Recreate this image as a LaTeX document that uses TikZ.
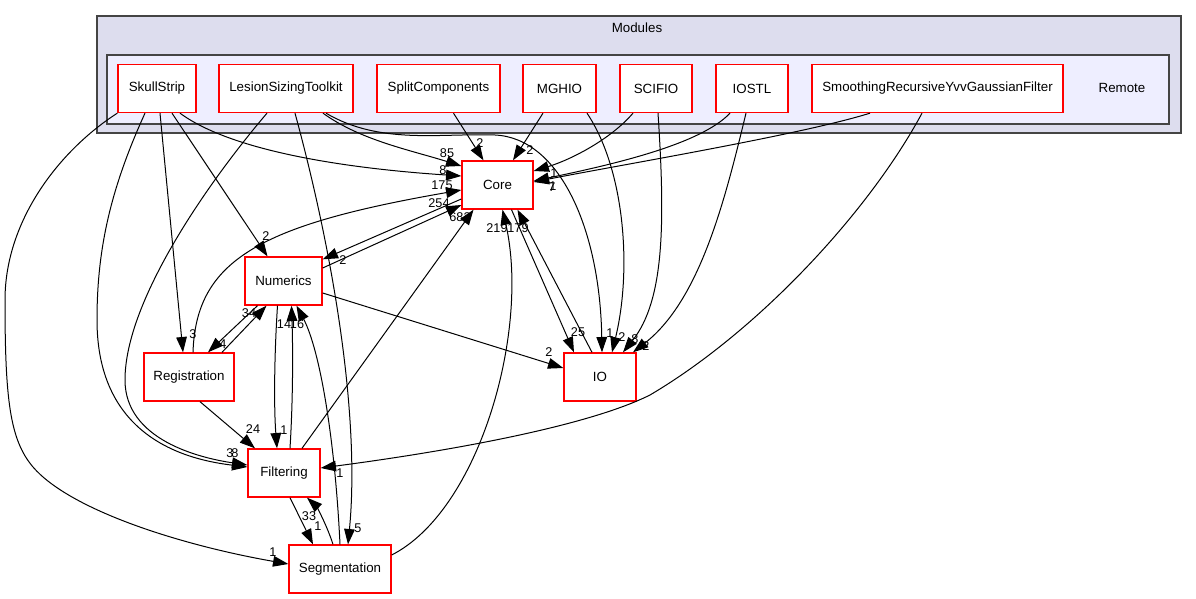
\documentclass[tikz,border=0pt]{standalone}
\usepackage{fontspec}
\setmainfont{Liberation Sans}
\usetikzlibrary{arrows.meta, calc}

\definecolor{modfill}{HTML}{DDDDEE}
\definecolor{remfill}{HTML}{EEEEFF}
\definecolor{clusterline}{HTML}{444444}

\tikzset{
  dirbox/.style={draw=red, line width=1pt, fill=white, minimum height=36pt, inner sep=0pt},
  dep/.style={-{Triangle[length=11.5pt, width=8pt]}, line width=0.75pt},
  lbl/.style={inner sep=0pt, font=\fontsize{9.5}{11}\selectfont},
}

\begin{document}
\begin{tikzpicture}[x=0.75pt, y=-0.75pt]
  \useasboundingbox (0,0) rectangle (1196,599);
  % --- Clusters ---
  \draw[clusterline, fill=modfill, line width=1.5pt] (97,16) rectangle (1181,133);
  \node (modules) at (637,28) {Modules};
  \draw[clusterline, fill=remfill, line width=1.5pt] (107,55) rectangle (1169,124);
  \node (remote) at (1122,88) {Remote};
  % --- Remote modules ---
  \node[dirbox, minimum width=58.5pt]  (skull)  at (157,88.5)   {SkullStrip};
  \node[dirbox, minimum width=100.5pt] (lesion) at (286,88.5)   {LesionSizingToolkit};
  \node[dirbox, minimum width=92.25pt] (split)  at (438.5,88.5) {SplitComponents};
  \node[dirbox, minimum width=54.75pt] (mghio)  at (559.5,88.5) {MGHIO};
  \node[dirbox, minimum width=54pt]    (scifio) at (656,88.5)   {SCIFIO};
  \node[dirbox, minimum width=54pt]    (iostl)  at (752,88.5)   {IOSTL};
  \node[dirbox, minimum width=188.25pt] (smooth) at (937.5,88.5) {SmoothingRecursiveYvvGaussianFilter};
  % --- Modules ---
  \node[dirbox, minimum width=53.25pt] (core)         at (497.5,185) {Core};
  \node[dirbox, minimum width=57.75pt] (numerics)     at (283.5,281) {Numerics};
  \node[dirbox, minimum width=67.5pt]  (registration) at (189,377)   {Registration};
  \node[dirbox, minimum width=54pt]    (io)           at (600,377)   {IO};
  \node[dirbox, minimum width=54pt]    (filtering)    at (284,473)   {Filtering};
  \node[dirbox, minimum width=76.5pt]  (segmentation) at (340,569)   {Segmentation};
  % --- SkullStrip ---
  \draw[dep] (skull.south west) .. controls (60,150) and (5,220) .. (5,300)
    .. controls (5,400) and (10,440) .. (33,467)
    .. controls (70,510) and (180,545) .. ($(segmentation.west)+(0,-5)$);
  \draw[dep] ($(skull.south)+(-12,0)$) .. controls (110,190) and (97,250) .. (97,320)
    .. controls (97,440) and (190,460) .. ($(filtering.west)+(0,-6)$);
  \draw[dep] ($(skull.south)+(3,0)$) -- ($(registration.north)+(-6,0)$);
  \draw[dep] ($(skull.south)+(15,0)$) -- ($(numerics.north)+(-16,0)$);
  \draw[dep] ($(skull.south)+(23,0)$) .. controls (230,150) and (340,168) .. ($(core.west)+(0,-9)$);
  % --- LesionSizingToolkit ---
  \draw[dep] ($(lesion.south)+(-19,0)$) .. controls (210,180) and (125,300) .. (125,380)
    .. controls (125,440) and (200,458) .. ($(filtering.west)+(0,-8)$);
  \draw[dep] ($(lesion.south)+(9,0)$) .. controls (335,260) and (360,420) .. ($(segmentation.north)+(8,0)$);
  \draw[dep] ($(lesion.south)+(37,0)$) .. controls (360,140) and (410,150) .. ($(core.west)+(0,-19)$);
  \draw[dep] ($(lesion.south)+(40,0)$) .. controls (380,145) and (440,133) .. (495,135)
    .. controls (560,138) and (600,230) .. ($(io.north)+(2,0)$);
  % --- SplitComponents, MGHIO, SCIFIO, IOSTL ---
  \draw[dep] ($(split.south)+(15,0)$) -- ($(core.north)+(-14,0)$);
  \draw[dep] ($(mghio.south)+(-16.5,0)$) -- ($(core.north)+(15.5,0)$);
  \draw[dep] ($(mghio.south)+(27.5,0)$) .. controls (625,170) and (632,270) .. ($(io.north)+(12,0)$);
  \draw[dep] ($(scifio.south)+(-23,0)$) .. controls (610,140) and (570,160) .. ($(core.east)+(0,-14)$);
  \draw[dep] ($(scifio.south)+(2,0)$) .. controls (665,220) and (665,300) .. ($(io.north)+(23,0)$);
  \draw[dep] ($(iostl.south)+(-22,0)$) .. controls (700,145) and (610,165) .. ($(core.east)+(0,-4)$);
  \draw[dep] ($(iostl.south)+(-6,0)$) .. controls (725,200) and (700,300) .. ($(io.north)+(33,0)$);
  % --- SmoothingRecursiveYvvGaussianFilter ---
  \draw[dep] ($(smooth.south)+(-67.5,0)$) .. controls (800,135) and (620,165) .. ($(core.east)+(0,-3)$);
  \draw[dep] ($(smooth.south)+(-15.5,0)$) .. controls (870,210) and (760,330) .. (650,395)
    .. controls (580,430) and (420,455) .. ($(filtering.east)+(0,-5)$);
  % --- Numerics, Registration ---
  \draw[dep] ($(numerics.east)+(0,-13)$) -- ($(core.west)+(0,20)$);
  \draw[dep] ($(core.west)+(0,14)$) -- ($(numerics.north east)+(0,3)$);
  \draw[dep] ($(numerics.east)+(0,12)$) -- ($(io.west)+(0,-9)$);
  \draw[dep] ($(numerics.south)+(-26,0)$) -- ($(registration.north)+(19,0)$);
  \draw[dep] ($(numerics.south)+(-6,0)$) .. controls (274,360) and (274,410) .. ($(filtering.north)+(-7,0)$);
  \draw[dep] ($(registration.north)+(4,0)$) .. controls (196,260) and (260,225) .. ($(core.west)+(0,5)$);
  \draw[dep] ($(registration.north)+(33,0)$) -- ($(numerics.south)+(-17,0)$);
  \draw[dep] ($(registration.south)+(11,0)$) -- ($(filtering.north)+(-29,0)$);
  % --- Filtering, Segmentation, IO ---
  \draw[dep] ($(filtering.north)+(6,0)$) .. controls (293,400) and (293,350) .. ($(numerics.south)+(8,0)$);
  \draw[dep] ($(filtering.north)+(18,0)$) -- ($(core.south)+(-24,0)$);
  \draw[dep] ($(filtering.south)+(6,0)$) -- ($(segmentation.north)+(-27,0)$);
  \draw[dep] ($(segmentation.north)+(-7,0)$) .. controls (325,520) and (315,505) .. ($(filtering.south)+(23,0)$);
  \draw[dep] (segmentation.north) .. controls (335,440) and (320,350) .. ($(numerics.south)+(13,0)$);
  \draw[dep] ($(segmentation.east)+(0,-14)$) .. controls (480,510) and (530,330) .. ($(core.south)+(5,0)$);
  \draw[dep] ($(core.south)+(14,0)$) -- ($(io.north)+(-26,0)$);
  \draw[dep] ($(io.north)+(-8,0)$) -- ($(core.south)+(20,0)$);
  % --- Edge counts ---
  \foreach \t/\x/\y [count=\i] in {1/273/552, 3/230/453, 8/235/453, 3/193/334, 2/266/236,
      8/443/170, 85/447/153, 5/358/528, 1/610/333, 2/622/337, 8/635/339, 2/646/346,
      2/480/143, 2/530/150, 1/554/173, 7/552/187, 1/553/186, 1/340/473,
      254/439/203, 2/343/260, 175/442/185, 34/249/313, 4/223/344, 24/253/429,
      1/284/430, 14/284/324, 16/297/324, 682/460/217, 33/309/516, 1/318/526,
      219/497/228, 179/518/228, 25/578/332, 2/549/352}
    \node[lbl] (e\i) at (\x,\y) {\t};
\end{tikzpicture}
\end{document}
